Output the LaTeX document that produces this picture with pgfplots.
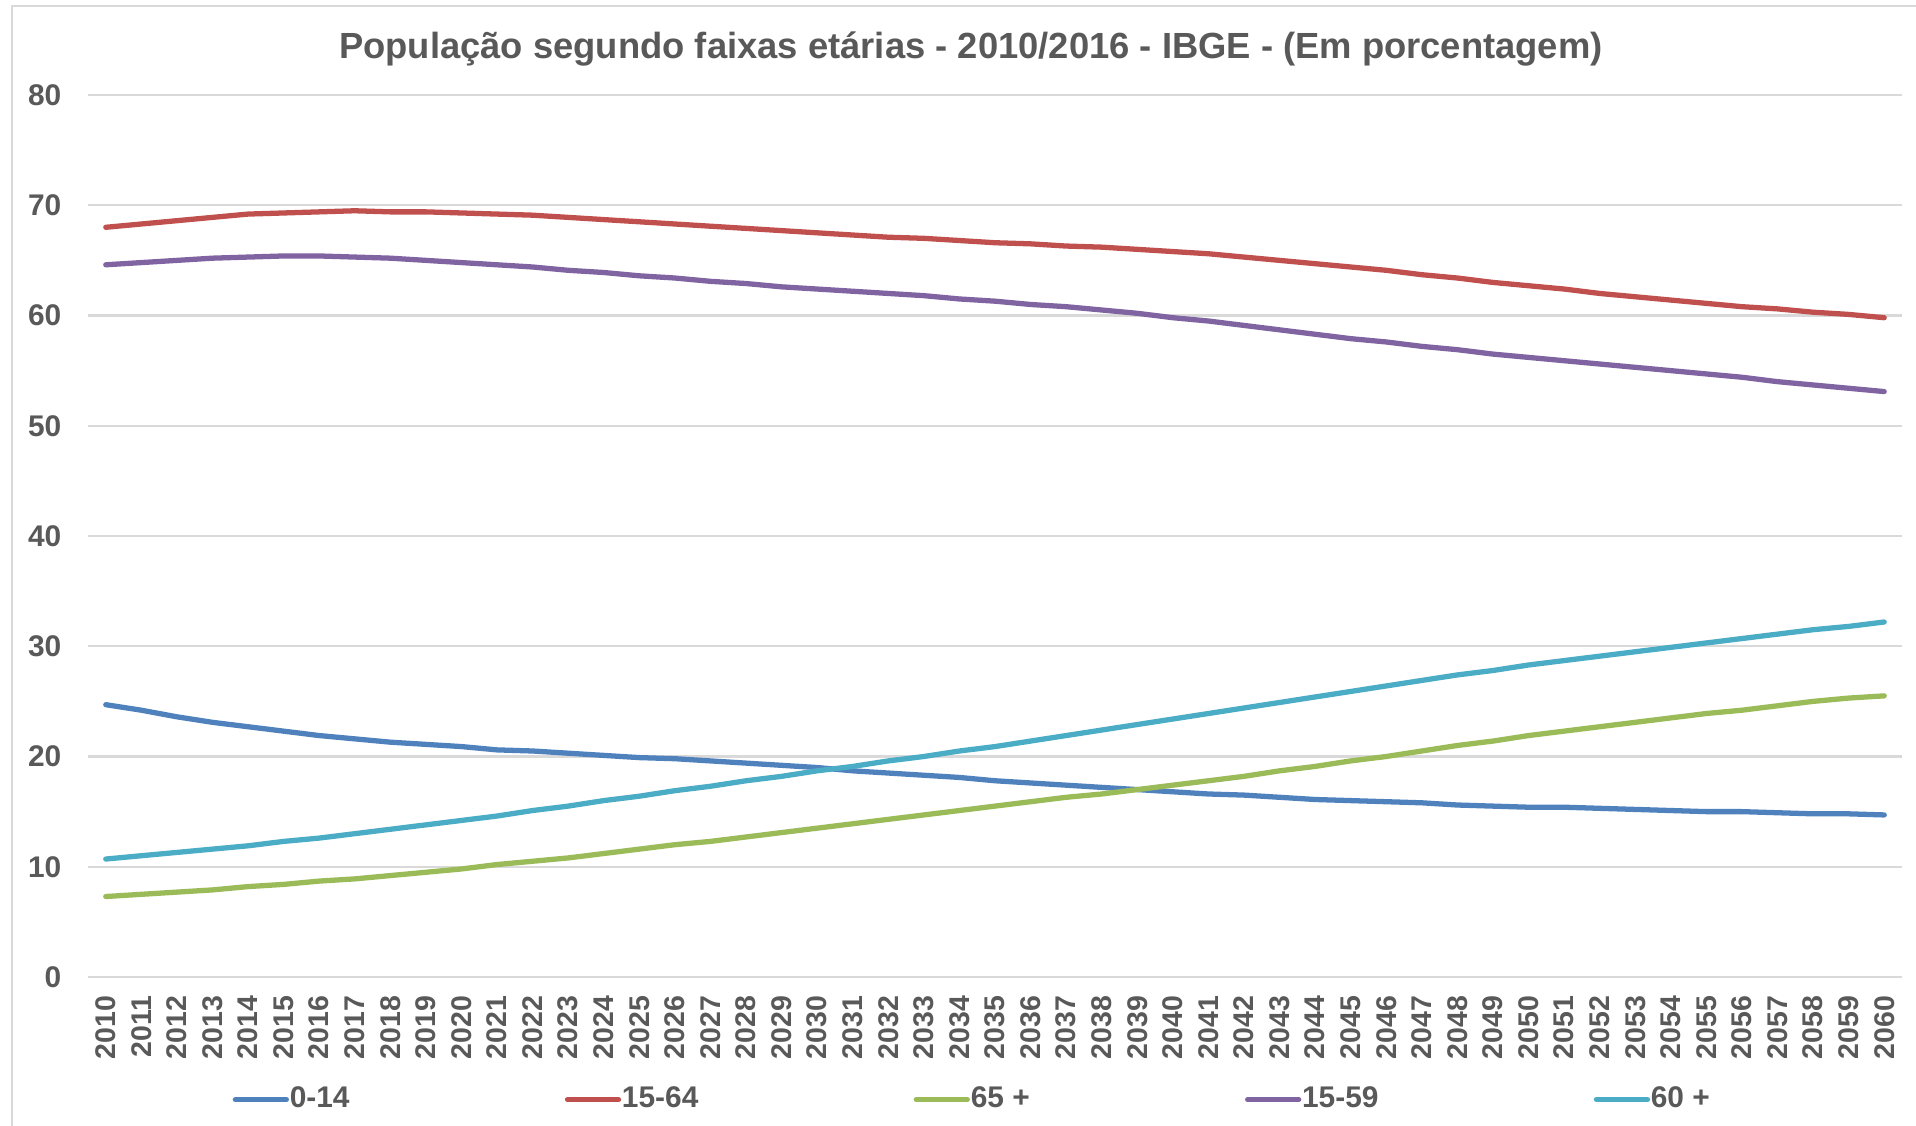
\documentclass[border=0pt]{standalone}
\usepackage{fontspec}
\setmainfont{Liberation Sans}
\usepackage{pgfplots}
\pgfplotsset{compat=1.18}
\usepackage{pgfplotstable}

\definecolor{cA}{HTML}{4F81BD}
\definecolor{cB}{HTML}{C0504D}
\definecolor{cC}{HTML}{9BBB59}
\definecolor{cD}{HTML}{8064A2}
\definecolor{cE}{HTML}{4BACC6}
\definecolor{txtgray}{HTML}{595959}
\definecolor{gridgray}{HTML}{D9D9D9}

% ano, 0-14, 15-64, 65+, 15-59, 60+
\pgfplotstableread{
ano  a    b    c    d    e
2010 24.7 68.0 7.3  64.6 10.7
2011 24.2 68.3 7.5  64.8 11.0
2012 23.6 68.6 7.7  65.0 11.3
2013 23.1 68.9 7.9  65.2 11.6
2014 22.7 69.2 8.2  65.3 11.9
2015 22.3 69.3 8.4  65.4 12.3
2016 21.9 69.4 8.7  65.4 12.6
2017 21.6 69.5 8.9  65.3 13.0
2018 21.3 69.4 9.2  65.2 13.4
2019 21.1 69.4 9.5  65.0 13.8
2020 20.9 69.3 9.8  64.8 14.2
2021 20.6 69.2 10.2 64.6 14.6
2022 20.5 69.1 10.5 64.4 15.1
2023 20.3 68.9 10.8 64.1 15.5
2024 20.1 68.7 11.2 63.9 16.0
2025 19.9 68.5 11.6 63.6 16.4
2026 19.8 68.3 12.0 63.4 16.9
2027 19.6 68.1 12.3 63.1 17.3
2028 19.4 67.9 12.7 62.9 17.8
2029 19.2 67.7 13.1 62.6 18.2
2030 19.0 67.5 13.5 62.4 18.7
2031 18.7 67.3 13.9 62.2 19.1
2032 18.5 67.1 14.3 62.0 19.6
2033 18.3 67.0 14.7 61.8 20.0
2034 18.1 66.8 15.1 61.5 20.5
2035 17.8 66.6 15.5 61.3 20.9
2036 17.6 66.5 15.9 61.0 21.4
2037 17.4 66.3 16.3 60.8 21.9
2038 17.2 66.2 16.6 60.5 22.4
2039 17.0 66.0 17.0 60.2 22.9
2040 16.8 65.8 17.4 59.8 23.4
2041 16.6 65.6 17.8 59.5 23.9
2042 16.5 65.3 18.2 59.1 24.4
2043 16.3 65.0 18.7 58.7 24.9
2044 16.1 64.7 19.1 58.3 25.4
2045 16.0 64.4 19.6 57.9 25.9
2046 15.9 64.1 20.0 57.6 26.4
2047 15.8 63.7 20.5 57.2 26.9
2048 15.6 63.4 21.0 56.9 27.4
2049 15.5 63.0 21.4 56.5 27.8
2050 15.4 62.7 21.9 56.2 28.3
2051 15.4 62.4 22.3 55.9 28.7
2052 15.3 62.0 22.7 55.6 29.1
2053 15.2 61.7 23.1 55.3 29.5
2054 15.1 61.4 23.5 55.0 29.9
2055 15.0 61.1 23.9 54.7 30.3
2056 15.0 60.8 24.2 54.4 30.7
2057 14.9 60.6 24.6 54.0 31.1
2058 14.8 60.3 25.0 53.7 31.5
2059 14.8 60.1 25.3 53.4 31.8
2060 14.7 59.8 25.5 53.1 32.2
}\dados

\begin{document}
\begin{tikzpicture}
\useasboundingbox (0,0) rectangle (191.6mm,-112.6mm);
\draw[draw=gridgray, line width=0.5pt] (1.2mm,-112.6mm) -- (1.2mm,-0.6mm) -- (191.6mm,-0.6mm);
\node[font=\fontsize{10.35}{12}\selectfont\bfseries, text=txtgray] at (97.1mm,-4.95mm)
  {População segundo faixas etárias - 2010/2016 - IBGE - (Em porcentagem)};
\begin{axis}[
  at={(8.8mm,-97.7mm)}, anchor=south west,
  scale only axis, width=181.4mm, height=88.2mm,
  xmin=2009.5, xmax=2060.5, ymin=0, ymax=80,
  xtick={2010,2011,...,2060}, ytick={0,10,...,80},
  axis line style={draw=none}, major tick length=0pt,
  ymajorgrids, major grid style={draw=gridgray, line width=0.6pt},
  /pgf/number format/.cd, 1000 sep={}, assume math mode=true, /pgfplots/.cd,
  tick label style={text=txtgray, inner sep=0pt},
  yticklabel style={font=\fontsize{8.5}{10}\selectfont\bfseries, anchor=east},
  xticklabel style={font=\fontsize{8.1}{10}\selectfont\bfseries, rotate=90, anchor=east},
  yticklabel shift=2.6mm, xticklabel shift=1.8mm,
  every axis plot/.append style={line width=1.5pt, line cap=round, line join=round},
  legend columns=5,
  legend style={at={(0.0794,-0.139)}, anchor=west, draw=none, fill=none, inner sep=0pt,
    font=\fontsize{8.5}{10}\selectfont\bfseries, text=txtgray,
    nodes={inner sep=0.08mm},
    /tikz/every even column/.append style={column sep=21.45mm}},
  legend image code/.code={\draw[#1] (0mm,0mm) -- (5.1mm,0mm);},
]
\addplot[cA] table[x=ano, y=a] {\dados};
\addlegendentry{0-14}
\addplot[cB] table[x=ano, y=b] {\dados};
\addlegendentry{15-64}
\addplot[cC] table[x=ano, y=c] {\dados};
\addlegendentry{65 +}
\addplot[cD] table[x=ano, y=d] {\dados};
\addlegendentry{15-59}
\addplot[cE] table[x=ano, y=e] {\dados};
\addlegendentry{60 +}
\end{axis}
\end{tikzpicture}
\end{document}
